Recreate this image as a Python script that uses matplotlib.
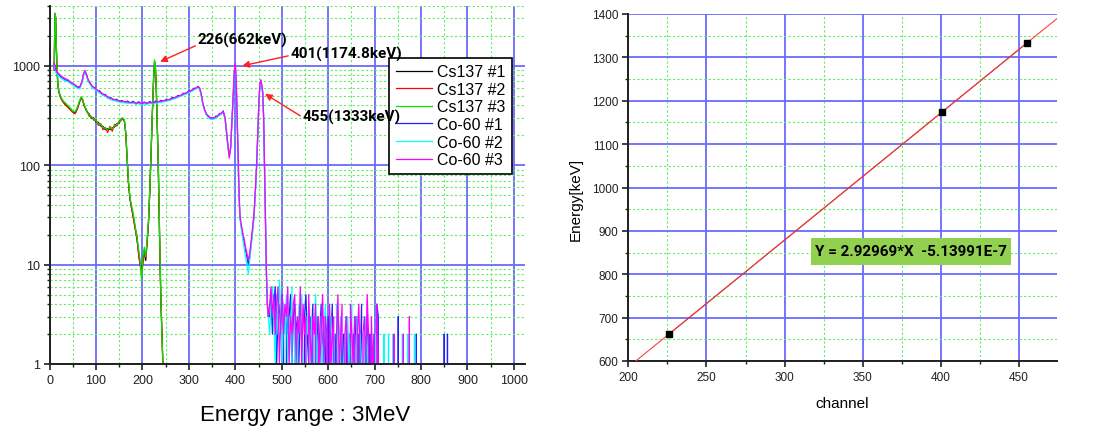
import matplotlib
matplotlib.use("Agg")
import matplotlib.pyplot as plt
from matplotlib.ticker import MultipleLocator, LogLocator, FuncFormatter, NullFormatter
from matplotlib.patches import Rectangle

plt.rcParams['font.family'] = ['Liberation Sans', 'DejaVu Sans']

# ---------------- data: gamma spectra (channel vs counts) ----------------
ch_cs = [10, 11, 12, 13, 14, 16, 18, 20, 23, 26, 30, 35, 40, 45, 50, 55, 60, 64, 68, 71,
         75, 80, 85, 90, 95, 100, 105, 110, 115, 120, 125, 130, 135, 140, 145, 150, 155, 158,
         161, 164, 167, 170, 173, 176, 180, 184, 188, 192, 195, 198, 201, 204, 207, 210, 213,
         216, 219, 222, 224, 226, 228, 230, 232, 234, 236, 238, 240, 242, 244]
cs137_1 = [900, 2300, 3300, 3000, 1800, 920, 620, 545, 490, 460, 430, 405, 385, 365, 345, 335,
           375, 430, 480, 455, 395, 345, 330, 295, 300, 272, 270, 248, 246, 228, 234, 228, 238,
           243, 262, 266, 296, 295, 280, 210, 115, 65, 46, 38, 31, 24, 18, 13, 10, 9, 11, 14,
           11, 17, 27, 58, 155, 410, 740, 1100, 950, 540, 240, 105, 33, 10, 4, 2, 1]
cs137_2 = [920, 2350, 3350, 3050, 1850, 930, 630, 550, 495, 455, 425, 400, 380, 360, 340, 330,
           370, 425, 475, 450, 390, 358, 312, 310, 284, 286, 252, 262, 228, 240, 214, 246, 220,
           258, 248, 280, 284, 293, 282, 212, 118, 66, 47, 39, 30, 23, 20, 12, 10, 8, 10, 13,
           12, 16, 26, 57, 150, 400, 730, 1080, 940, 530, 235, 100, 32, 10, 4, 2, 1]
cs137_3 = [950, 2400, 3400, 3100, 1900, 950, 640, 560, 500, 470, 440, 420, 395, 375, 350, 345,
           385, 440, 490, 465, 405, 350, 325, 300, 295, 280, 262, 258, 240, 236, 228, 240, 232,
           250, 258, 272, 292, 300, 285, 215, 120, 68, 48, 40, 33, 25, 19, 14, 11, 7, 12, 15,
           12, 18, 28, 60, 160, 420, 760, 1150, 980, 560, 250, 110, 35, 11, 4, 2, 1]

ch_co = [10, 13, 16, 20, 25, 30, 35, 40, 45, 50,
         55, 60, 65, 70, 73, 76, 79, 83, 87, 92,
         97, 102, 108, 114, 120, 126, 132, 138, 144, 150,
         156, 162, 168, 174, 180, 186, 192, 198, 204, 210,
         216, 222, 228, 234, 240, 246, 252, 258, 264, 270,
         276, 282, 288, 294, 300, 305, 310, 315, 320, 323,
         326, 330, 334, 338, 342, 346, 350, 354, 358, 362,
         366, 370, 374, 378, 381, 384, 387, 390, 393, 396,
         398, 400, 402, 404, 406, 408, 410, 413, 416, 419,
         422, 425, 428, 431, 434, 437, 440, 443, 446, 449,
         451, 453, 455, 457, 459, 461, 463, 465, 467, 469,
         471]
co60_1 = [1050, 900, 830, 820, 760, 750, 712, 716, 668, 662,
          640, 598, 612, 690, 810, 880, 830, 712, 676, 612,
          605, 560, 560, 512, 515, 475, 478, 452, 462, 438,
          448, 428, 442, 420, 440, 415, 436, 410, 432, 416,
          438, 418, 442, 428, 450, 440, 462, 452, 480, 472,
          502, 498, 530, 526, 560, 556, 594, 590, 622, 592,
          530, 415, 362, 320, 314, 294, 300, 294, 312, 308,
          332, 328, 352, 295, 215, 158, 125, 150, 290, 580,
          880, 1030, 690, 290, 110, 52, 30, 24, 20, 17,
          14, 12, 10, 12, 16, 22, 30, 52, 100, 250,
          450, 640, 710, 630, 540, 300, 90, 25, 8, 4,
          3]
co60_2 = [1000, 860, 820, 780, 750, 720, 705, 690, 665, 640,
          615, 595, 585, 675, 790, 860, 800, 705, 650, 605,
          580, 555, 530, 508, 492, 470, 455, 448, 440, 432,
          428, 425, 420, 418, 420, 412, 415, 410, 412, 410,
          418, 415, 420, 425, 430, 435, 440, 448, 458, 468,
          480, 492, 506, 520, 535, 550, 568, 585, 598, 590,
          520, 405, 350, 320, 300, 292, 288, 292, 298, 306,
          318, 328, 338, 290, 210, 155, 122, 148, 285, 570,
          860, 1000, 670, 285, 105, 50, 29, 23, 18, 15,
          12, 10, 8, 11, 15, 20, 29, 50, 96, 245,
          440, 630, 700, 620, 530, 295, 88, 24, 8, 4,
          3]
co60_3 = [1080, 920, 870, 830, 790, 760, 740, 720, 690, 665,
          640, 620, 610, 705, 830, 900, 825, 730, 670, 625,
          598, 575, 548, 525, 505, 485, 470, 460, 452, 446,
          440, 436, 432, 428, 432, 422, 426, 420, 425, 422,
          428, 424, 432, 436, 440, 446, 452, 460, 470, 480,
          492, 505, 520, 535, 550, 565, 582, 600, 612, 600,
          540, 425, 360, 330, 310, 302, 296, 302, 306, 316,
          326, 336, 346, 300, 220, 162, 118, 152, 295, 590,
          900, 1060, 710, 300, 115, 55, 31, 25, 21, 18,
          15, 13, 11, 13, 17, 23, 31, 54, 104, 255,
          460, 650, 725, 650, 550, 310, 95, 27, 9, 4,
          3]

# noisy tail (channels 474..711, every 3rd channel)
ch_tail = list(range(474, 712, 3))
tail_1 = [3, 5, 2, 4, 6, 1, 3, 4, 2, 5, 3, 0, 4, 2, 3, 5, 1, 3, 4, 2,
          3, 1, 4, 2, 0, 3, 5, 2, 1, 3, 2, 4, 0, 2, 3, 1, 2, 4, 1, 3,
          2, 0, 3, 1, 2, 4, 0, 2, 1, 3, 0, 2, 1, 2, 0, 3, 1, 2, 0, 1,
          2, 1, 3, 0, 2, 1, 4, 0, 2, 1, 3, 0, 2, 0, 1, 2, 0, 4, 3, 0]
tail_2 = [2, 4, 6, 3, 1, 5, 2, 7, 3, 1, 4, 2, 5, 1, 3, 2, 6, 0, 3, 2,
          1, 4, 2, 5, 1, 0, 3, 2, 4, 1, 3, 0, 2, 5, 1, 2, 0, 3, 1, 2,
          4, 1, 0, 2, 3, 1, 2, 0, 4, 1, 2, 3, 0, 1, 2, 0, 3, 1, 2, 4,
          0, 2, 1, 3, 0, 2, 1, 0, 2, 3, 1, 2, 0, 2, 1, 0, 2, 1, 0, 1]
tail_3 = [4, 6, 3, 5, 2, 4, 6, 1, 3, 5, 2, 4, 3, 6, 1, 3, 2, 4, 5, 1,
          3, 2, 6, 1, 4, 2, 3, 0, 5, 2, 1, 3, 2, 4, 0, 3, 1, 2, 5, 1,
          3, 2, 0, 4, 1, 2, 3, 0, 2, 5, 1, 2, 4, 0, 2, 3, 1, 0, 4, 2,
          1, 3, 0, 2, 4, 1, 0, 2, 3, 1, 5, 2, 0, 3, 1, 2, 0, 4, 1, 0]

# isolated counts far in the tail
far_ch_1 = [714, 749, 751, 753, 788, 790, 792, 848, 850, 852, 855, 857, 859, 862]
far_ct_1 = [0, 0, 3, 0, 0, 2, 0, 0, 2, 0, 0, 2, 0, 0]
far_ch_2 = [714, 718, 720, 722, 728, 730, 732, 738, 740, 742, 758, 760, 762, 770, 772, 774, 784, 786, 788]
far_ct_2 = [0, 0, 2, 0, 0, 2, 0, 0, 2, 0, 0, 2, 0, 0, 2, 0, 0, 2, 0]
far_ch_3 = [714, 740, 742, 744, 760, 762, 764, 773, 775, 777]
far_ct_3 = [0, 0, 2, 0, 0, 2, 0, 0, 3, 0]

series_labels = ['Cs137 #1', 'Cs137 #2', 'Cs137 #3', 'Co-60 #1', 'Co-60 #2', 'Co-60 #3']
series_colors = ['#000000', '#ff0000', '#00e600', '#2020ff', '#00ffff', '#ff00ff']

# calibration data
peak_channels = [226, 401, 455]
peak_energies = [662, 1174.8, 1333]
fit_slope = 2.92969
fit_intercept = -5.13991e-7
fit_label = 'Y = 2.92969*X  -5.13991E-7'

# ---------------- figure ----------------
W, H = 1102, 427
fig = plt.figure(figsize=(W / 100, H / 100), dpi=100)

ax1 = fig.add_axes([49.6 / W, 1 - 365 / H, (525 - 49.6) / W, (365 - 7) / H])
ax2 = fig.add_axes([628.3 / W, 1 - 362 / H, (1057 - 628.3) / W, (362 - 15) / H])

major_grid = dict(color='#6a6aff', lw=1.3)
minor_grid = dict(color='#60ee60', lw=0.8, ls=(0, (2, 2)))

# ----- left: spectra -----
ax1.set_yscale('log', nonpositive='clip')
xs = [ch_cs, ch_cs, ch_cs,
      ch_co + ch_tail + far_ch_1,
      ch_co + ch_tail + far_ch_2,
      ch_co + ch_tail + far_ch_3]
ys = [cs137_1, cs137_2, cs137_3,
      co60_1 + tail_1 + far_ct_1,
      co60_2 + tail_2 + far_ct_2,
      co60_3 + tail_3 + far_ct_3]
for x, y, lab, col in zip(xs, ys, series_labels, series_colors):
    ax1.plot(x, y, color=col, lw=0.9, label=lab)

ax1.set_xlim(0, 1024)
ax1.set_ylim(1, 4000)
ax1.xaxis.set_major_locator(MultipleLocator(100))
ax1.xaxis.set_minor_locator(MultipleLocator(50))
ax1.yaxis.set_major_locator(LogLocator(base=10))
ax1.yaxis.set_minor_locator(LogLocator(base=10, subs=(2, 3, 4, 5, 6, 7, 8, 9)))
ax1.yaxis.set_major_formatter(FuncFormatter(lambda v, p: f'{v:g}'))
ax1.yaxis.set_minor_formatter(NullFormatter())
ax1.set_axisbelow(True)
ax1.grid(which='major', **major_grid)
ax1.grid(which='minor', **minor_grid)

ann_font = dict(family=['Roboto', 'DejaVu Sans'], weight='bold', size=11, color='black')
arrow_kw = dict(arrowstyle='-|>', color='#ff2020', lw=1.0, mutation_scale=10, shrinkA=0, shrinkB=0)
ann_heads = [(238, 1100), (415, 1000), (464, 522)]
ann_tails = [(314, 1589), (514, 1260), (540, 314)]
ann_texts = [(318, 1826), (520, 1320), (544, 307)]
for ch, en, hd, tl, tx in zip(peak_channels, peak_energies, ann_heads, ann_tails, ann_texts):
    ax1.annotate('', xy=hd, xytext=tl, arrowprops=arrow_kw)
    ax1.text(tx[0], tx[1], f'{ch}({en:g}keV)', ha='left', va='center', zorder=10, **ann_font)

leg = ax1.legend(loc='upper right', bbox_to_anchor=((512 - 49.6) / 475.4, (365 - 59) / 358),
                 fontsize=11.5, frameon=True, fancybox=False, framealpha=1, edgecolor='black',
                 handlelength=2.25, handletextpad=0.35, labelspacing=0.16, borderpad=0.4,
                 borderaxespad=0)
leg.get_frame().set_linewidth(1.2)
leg.set_zorder(5)

fig.text(305.5 / W, 1 - 421 / H, 'Energy range : 3MeV', ha='center', va='baseline', fontsize=16)

# ----- right: calibration -----
ax2.plot(peak_channels, peak_energies, color='#5a0000', lw=0.7, zorder=2)
ax2.axline((0, fit_intercept), slope=fit_slope, color='#ff4040', lw=0.8, zorder=3)
ax2.plot(peak_channels, peak_energies, 's', color='black', ms=5, zorder=4)
ax2.set_xlim(200, 474.3)
ax2.set_ylim(600, 1400)
ax2.xaxis.set_major_locator(MultipleLocator(50))
ax2.xaxis.set_minor_locator(MultipleLocator(25))
ax2.yaxis.set_major_locator(MultipleLocator(100))
ax2.yaxis.set_minor_locator(MultipleLocator(50))
ax2.set_axisbelow(True)
ax2.grid(which='major', **major_grid)
ax2.grid(which='minor', **minor_grid)

ax2.add_patch(Rectangle((0.4262, 0.2767), 0.8927 - 0.4262, 0.3545 - 0.2767,
                        transform=ax2.transAxes, facecolor='#92d050', edgecolor='none', zorder=5))
ax2.text(0.6594, 0.3156, fit_label, transform=ax2.transAxes, ha='center', va='center',
         zorder=6, **ann_font)

fig.text(576 / W, 1 - 199 / H, 'Energy[keV]', rotation=90, ha='center', va='center', fontsize=11)
fig.text(842 / W, 1 - 404 / H, 'channel', ha='center', va='center', fontsize=11)

for ax, fs in ((ax1, 9), (ax2, 8.5)):
    for s in ('top', 'right'):
        ax.spines[s].set_visible(False)
    for s in ('left', 'bottom'):
        ax.spines[s].set_linewidth(1.4)
        ax.spines[s].set_color('#202020')
    ax.tick_params(which='major', direction='out', length=4, width=1.2, labelsize=fs, pad=3,
                   colors='#202020')
    ax.tick_params(which='minor', direction='out', length=2.5, width=1.0, colors='#202020')

fig.savefig('out.png', dpi=100)
